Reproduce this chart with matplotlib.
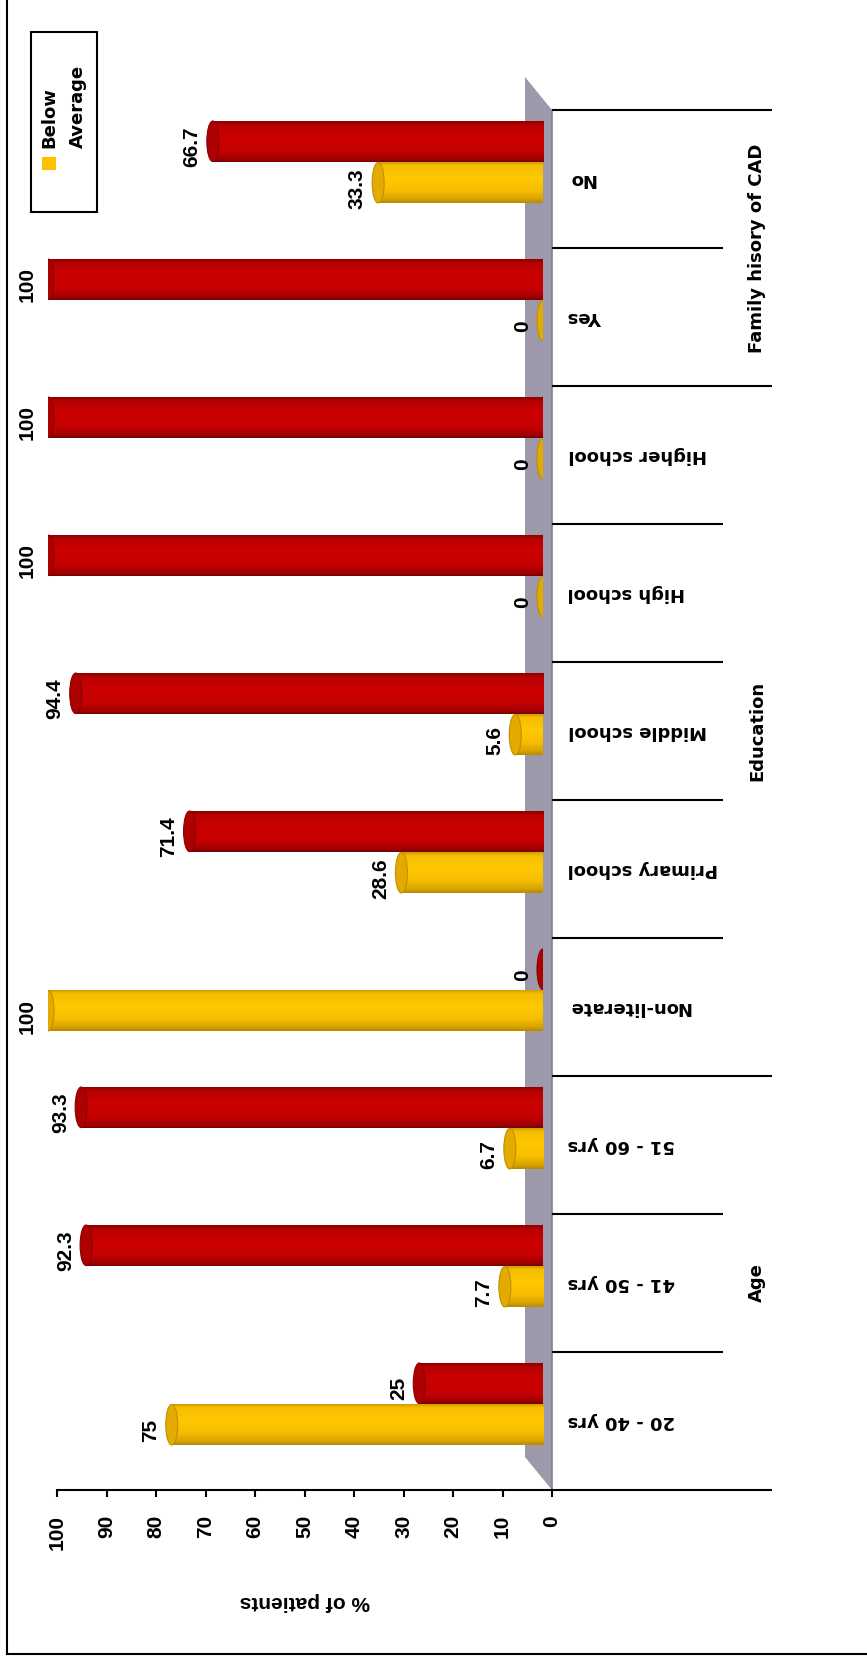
import numpy as np
import matplotlib
matplotlib.use('Agg')
import matplotlib.pyplot as plt
import matplotlib.transforms as mtrans
from matplotlib.patches import Ellipse, Polygon, Rectangle
from matplotlib.lines import Line2D
from matplotlib.colors import LinearSegmentedColormap

# data
categories = ['20 - 40 yrs', '41 - 50 yrs', '51 - 60 yrs',
              'Non-literate', 'Primary school', 'Middle school',
              'High school', 'Higher school', 'Yes', 'No']
below = [75, 7.7, 6.7, 100, 28.6, 5.6, 0, 0, 0, 33.3]
average = [25, 92.3, 93.3, 0, 71.4, 94.4, 100, 100, 100, 66.7]
groups = ['Age', 'Education', 'Family hisory of CAD']
group_sizes = [3, 5, 2]
xticks = np.arange(0, 101, 10)

plt.rcParams['font.family'] = 'DejaVu Sans'
NUM_FONT = 'Liberation Sans'

W, H = 867, 1661


def fx(px):
    return px / W


def fy(py):
    return 1 - py / H


fig = plt.figure(figsize=(W / 100, H / 100), dpi=100)

# plot box in pixels
left, right, top, bottom = 57, 552, 110, 1490
ax = fig.add_axes([fx(left), fy(bottom), (right - left) / W, (bottom - top) / H])
ax.set_facecolor('none')

# bars sit half way into the 3d depth
bar_dx, bar_dy = 9, 17
bx = fig.add_axes([fx(left - bar_dx), fy(bottom - bar_dy), (right - left) / W, (bottom - top) / H])
bx.set_facecolor('none')
bx.axis('off')

n = len(categories)
px_unit = (right - left) / 100.0
px_slot = (bottom - top) / n

# floor (grey wall behind the axis)
fw = 27 / px_unit
fh = 33 / px_slot
floor = Polygon([(0, -0.5), (0, n - 0.5), (fw, n - 0.5 + fh), (fw, -0.5 + fh)],
                closed=True, facecolor='#9d98aa', edgecolor='none', clip_on=False, zorder=0)
ax.add_patch(floor)
ax.plot([0, 0], [-0.5, n - 0.5], color='#85808f', lw=1.2, clip_on=False, zorder=0.5)


def cyl_cmap(stops):
    return LinearSegmentedColormap.from_list('c', stops)


# colour across the cylinder, bottom edge -> top edge
red_cmap = cyl_cmap([(0, '#7a0000'), (0.07, '#a00000'), (0.25, '#c40000'),
                     (0.6, '#cc0000'), (0.88, '#b80000'), (1.0, '#850000')])
yel_cmap = cyl_cmap([(0, '#b88c00'), (0.1, '#daa500'), (0.3, '#f7be00'),
                     (0.6, '#ffc800'), (0.9, '#f5bd00'), (1.0, '#c89600')])

series = [
    (average, 0.15, red_cmap, '#c40000', '#ad0000', '#8c0000', 1),
    (below, -0.15, yel_cmap, '#ffc400', '#e3aa00', '#c09000', 5),
]
bar_h = 0.3
cap_w = 12 / px_unit
grad = np.linspace(0, 1, 64).reshape(-1, 1)

for vals, off, cmap, body, capc, edge, z in series:
    ys = np.arange(n) + off
    rects = bx.barh(ys, vals, height=bar_h, color=body, linewidth=0, zorder=z + 1)
    for v, y, r in zip(vals, ys, rects):
        base = Ellipse((0, y), cap_w * 0.7, bar_h, facecolor=body, edgecolor='none', zorder=z)
        bx.add_patch(base)
        if v > 0:
            im = bx.imshow(grad, cmap=cmap, extent=[0, v, y - bar_h / 2, y + bar_h / 2],
                           origin='lower', aspect='auto', zorder=z + 1.5, interpolation='bilinear')
            im.set_clip_path(r)
        cap = Ellipse((v, y), cap_w, bar_h * 0.98, facecolor=capc, edgecolor=edge,
                      lw=0.8, zorder=z + 2)
        bx.add_patch(cap)
        bx.annotate(f'{v:g}', xy=(v, y), xytext=(-15, -4), textcoords='offset points',
                    rotation=90, ha='center', va='center', fontfamily=NUM_FONT,
                    fontweight='bold', fontsize=15, annotation_clip=False, zorder=10)

for a in (ax, bx):
    a.set_xlim(100, 0)
    a.set_ylim(-0.5, n - 0.5)

# value axis
for s in ['top', 'left', 'right']:
    ax.spines[s].set_visible(False)
ax.spines['bottom'].set_linewidth(1.5)
ax.set_xticks(xticks)
ax.set_xticklabels([str(t) for t in xticks], fontfamily=NUM_FONT, fontweight='bold', fontsize=15)
ax.tick_params(axis='x', direction='out', length=5, width=1.5, pad=13, labelrotation=90)
ax.set_xlabel('% of patients', fontfamily=NUM_FONT, fontweight='bold', fontsize=15,
              rotation=180, va='center')
ax.xaxis.set_label_coords(0.5, -(1602 - bottom) / (bottom - top))

# category axis
ax.yaxis.tick_right()
ax.set_yticks(np.arange(n))
ax.set_yticklabels(categories, rotation=180, fontsize=13, fontweight='bold')
ax.tick_params(axis='y', length=0, pad=11.5)
for lbl in ax.get_yticklabels():
    lbl.set_va('center')

trans = mtrans.blended_transform_factory(ax.transAxes, ax.transData)
edges = np.concatenate([[0], np.cumsum(group_sizes)]) - 0.5
long_x = 1 + (772 - right) / (right - left)
short_x = 1 + (723 - right) / (right - left)
for b in np.arange(n + 1) - 0.5:
    xe = long_x if np.any(np.isclose(edges, b)) else short_x
    ax.plot([1, xe], [b, b], transform=trans, color='black', lw=1.5, clip_on=False,
            solid_capstyle='butt')

label_x = 1 + (757 - right) / (right - left)
for g, lo, hi in zip(groups, edges[:-1], edges[1:]):
    ax.text(label_x, (lo + hi) / 2, g, transform=trans, rotation=90, ha='center',
            va='center', fontsize=13, fontweight='bold')

# legend (drawn by hand, the entry text is rotated)
fig.add_artist(Rectangle((fx(31), fy(212)), (97 - 31) / W, (212 - 32) / H,
                         transform=fig.transFigure, fill=False, edgecolor='black', lw=1.5))
fig.add_artist(Rectangle((fx(42), fy(170)), 14 / W, 13 / H, transform=fig.transFigure,
                         facecolor='#ffc000', edgecolor='none'))
fig.text(fx(64), fy(148), 'Below\nAverage', rotation=90, ha='center', va='bottom',
         multialignment='left', fontsize=13, fontweight='bold', linespacing=1.75)

# outer frame
fig.add_artist(Line2D([fx(7), fx(7)], [fy(0), fy(1654)], color='black', lw=1.5))
fig.add_artist(Line2D([fx(7), fx(W)], [fy(1654), fy(1654)], color='black', lw=1.5))

fig.savefig('out.png', dpi=100)
